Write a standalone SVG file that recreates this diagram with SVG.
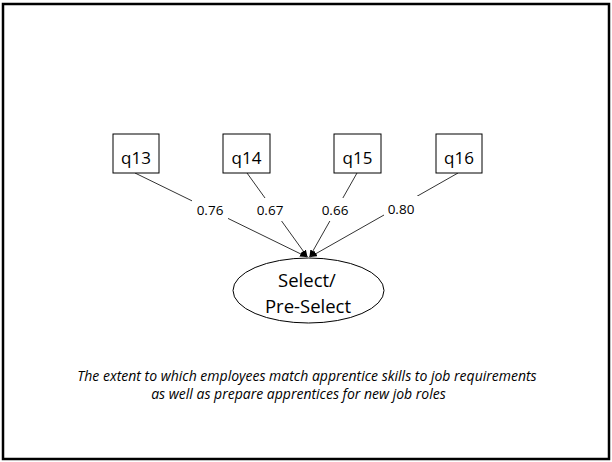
<svg xmlns="http://www.w3.org/2000/svg" width="612" height="462" viewBox="0 0 612 462">
<style>
.frame{fill:#fff;stroke:#000;stroke-width:2.5}
.box{fill:#fff;stroke:#000;stroke-width:1}
.lat{fill:#fff;stroke:#000;stroke-width:1}
.ln{stroke:#333;stroke-width:1;fill:none}
.lbg{fill:#fff}
.t{font-family:"Open Sans","Liberation Sans",sans-serif;fill:#000;text-anchor:middle}
.q{font-size:17px}
.n{font-size:13.5px}
.c{font-size:18.5px}
.cap{font-family:"Open Sans","Liberation Sans",sans-serif;font-style:italic;font-size:14px;text-anchor:middle;fill:#000}
</style>
<defs>
<marker id="ah" markerUnits="userSpaceOnUse" markerWidth="8" markerHeight="8" refX="7" refY="3" orient="auto">
<path d="M0,0 L7,3 L0,6 Z" fill="#000"/>
</marker>
</defs>
<rect class="frame" x="3" y="4" width="606" height="455"/>
<g id="connectors">
<line class="ln" x1="135" y1="173" x2="307" y2="257" marker-end="url(#ah)"/>
<line class="ln" x1="247" y1="173" x2="307.5" y2="257" marker-end="url(#ah)"/>
<line class="ln" x1="357" y1="173" x2="309.5" y2="257" marker-end="url(#ah)"/>
<line class="ln" x1="458" y1="173" x2="310" y2="257" marker-end="url(#ah)"/>
<rect class="lbg" x="192" y="200" width="36" height="20"/>
<rect class="lbg" x="253" y="198" width="35" height="23"/>
<rect class="lbg" x="318" y="198" width="35" height="23"/>
<rect class="lbg" x="384" y="196" width="35" height="22"/>
<text class="t n" x="210" y="215">0.76</text>
<text class="t n" x="270" y="215">0.67</text>
<text class="t n" x="335" y="215">0.66</text>
<text class="t n" x="401" y="214">0.80</text>
</g>
<g id="q13"><rect class="box" x="113" y="134" width="46" height="39"/><text class="t q" x="136" y="164">q13</text></g>
<g id="q14"><rect class="box" x="223" y="134" width="47" height="39"/><text class="t q" x="246.5" y="164">q14</text></g>
<g id="q15"><rect class="box" x="334" y="134" width="47" height="39"/><text class="t q" x="357.5" y="164">q15</text></g>
<g id="q16"><rect class="box" x="436" y="134" width="46" height="39"/><text class="t q" x="459" y="164">q16</text></g>
<g id="select">
<ellipse class="lat" cx="308.5" cy="290.5" rx="75.5" ry="32.5"/>
<text class="t c" x="307" y="287">Select/</text>
<text class="t c" x="308" y="313">Pre-Select</text>
</g>
<g id="caption">
<text class="cap" x="307" y="381">The extent to which employees match apprentice skills to job requirements</text>
<text class="cap" x="298.5" y="399">as well as prepare apprentices for new job roles</text>
</g>
</svg>
